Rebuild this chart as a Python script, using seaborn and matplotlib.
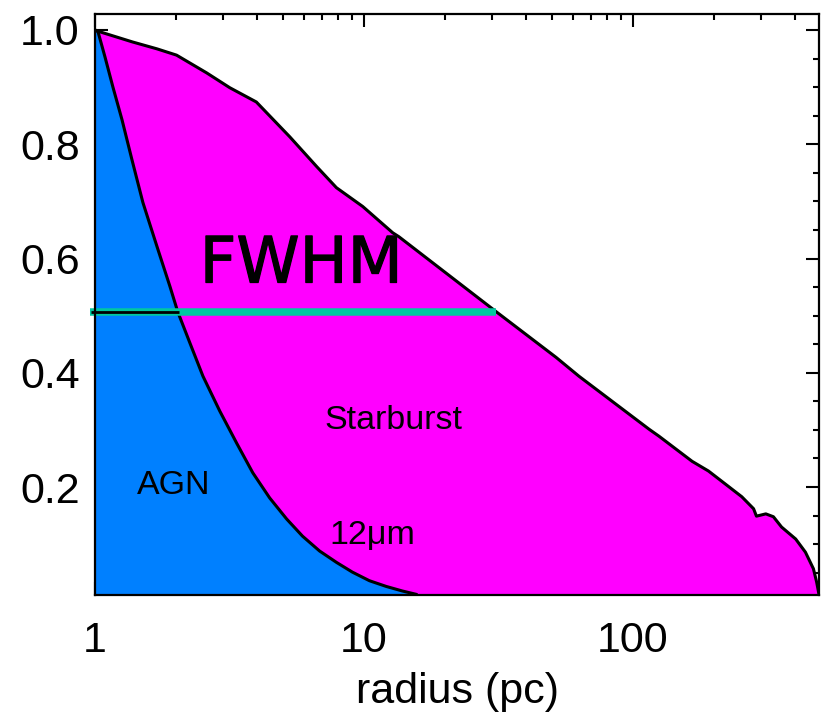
import matplotlib
matplotlib.use("Agg")
import matplotlib.pyplot as plt
import matplotlib.patheffects as pe
import seaborn as sns
import numpy as np
import pandas as pd
from matplotlib.ticker import MultipleLocator, FixedLocator, FixedFormatter, LogLocator, NullFormatter

# ---- data ----
sb_r = [1.0, 1.04, 1.38, 1.70, 2.01, 2.60, 3.17, 3.98, 5.3, 6.67, 7.9, 9.9, 12.8, 13.5,
        31.0, 51.8, 63.0, 115.0, 125.0, 166.0, 191.0, 221.0, 254.0, 281.0, 288.0,
        312.0, 333.0, 357.0, 403.0, 438.0, 469.0, 482.0, 492.0]
sb_y = [1.0, 0.997, 0.979, 0.967, 0.956, 0.925, 0.899, 0.874, 0.813, 0.761, 0.724, 0.691,
        0.645, 0.638, 0.507, 0.427, 0.394, 0.301, 0.289, 0.245, 0.228, 0.205, 0.183,
        0.162, 0.149, 0.153, 0.148, 0.130, 0.109, 0.086, 0.057, 0.034, 0.012]

agn_r = [1.0, 1.026, 1.089, 1.166, 1.26, 1.372, 1.507, 1.70, 1.90, 2.03, 2.25, 2.52,
         2.91, 3.37, 3.86, 4.46, 5.16, 5.91, 6.84, 7.91, 9.06, 10.48, 12.1, 13.9, 15.7]
agn_y = [1.0, 0.997, 0.953, 0.900, 0.843, 0.773, 0.698, 0.621, 0.551, 0.507, 0.453,
         0.394, 0.333, 0.276, 0.225, 0.181, 0.144, 0.114, 0.088, 0.068, 0.051, 0.036,
         0.026, 0.018, 0.012]

fwhm_level = 0.507
fwhm_sb_end = 31.0
fwhm_agn_end = 2.05

x_ticks = [1, 10, 100]
x_ticklabels = ["1", "10", "100"]
y_ticks = [0.2, 0.4, 0.6, 0.8, 1.0]
y_ticklabels = ["0.2", "0.4", "0.6", "0.8", "1.0"]

sb_df = pd.DataFrame({"radius": sb_r, "flux": sb_y})
agn_df = pd.DataFrame({"radius": agn_r, "flux": agn_y})

sns.set_style("ticks")
plt.rcParams["font.family"] = ["Liberation Sans", "DejaVu Sans"]
plt.rcParams["text.color"] = "black"
plt.rcParams["axes.labelcolor"] = "black"
plt.rcParams["xtick.color"] = "black"
plt.rcParams["ytick.color"] = "black"

fig = plt.figure(figsize=(8.22, 7.19), dpi=100)
ax = fig.add_axes([95 / 822, 1 - 595 / 719, (819 - 95) / 822, (595 - 14) / 719])

MAG = "#FF00FF"
BLUE = "#0080FF"
GREEN = "#00C8A0"

ax.set_xscale("log")
ax.fill_between(sb_df["radius"], 0, sb_df["flux"], color=MAG, lw=0, zorder=1)
ax.fill_between(agn_df["radius"], 0, agn_df["flux"], color=BLUE, lw=0, zorder=2)
sns.lineplot(data=sb_df, x="radius", y="flux", ax=ax, color="black", lw=2.2,
             sort=False, zorder=3)
sns.lineplot(data=agn_df, x="radius", y="flux", ax=ax, color="black", lw=2.2,
             sort=False, zorder=3)

# FWHM lines
ax.plot([0.958, fwhm_sb_end], [fwhm_level, fwhm_level], color=GREEN, lw=5.4,
        solid_capstyle="butt", zorder=4, clip_on=False)
ax.plot([0.97, fwhm_agn_end], [fwhm_level, fwhm_level], color="black", lw=2.0,
        solid_capstyle="butt", zorder=5, clip_on=False)

ax.set_xlim(1.0, 492)
ax.set_ylim(0.011, 1.028)

ax.xaxis.set_major_locator(FixedLocator(x_ticks))
ax.xaxis.set_major_formatter(FixedFormatter(x_ticklabels))
ax.xaxis.set_minor_locator(LogLocator(base=10, subs=np.arange(2, 10), numticks=20))
ax.xaxis.set_minor_formatter(NullFormatter())
ax.yaxis.set_major_locator(FixedLocator(y_ticks))
ax.yaxis.set_major_formatter(FixedFormatter(y_ticklabels))
ax.yaxis.set_minor_locator(MultipleLocator(0.05))

ax.tick_params(which="both", direction="in", top=True, right=True, width=1.5,
               color="black", labelcolor="black", zorder=6)
ax.tick_params(which="major", length=9.5, labelsize=31)
ax.tick_params(which="minor", length=4.5)
ax.tick_params(axis="x", which="major", pad=19)
ax.tick_params(axis="y", which="major", pad=11)
for s in ax.spines.values():
    s.set_linewidth(1.6)
    s.set_color("black")
    s.set_zorder(6)

ax.set_xlabel("radius (pc)", fontsize=31, labelpad=8, color="black")
ax.set_ylabel("")

ax.text(2.45, 0.558, "FWHM", fontsize=46, family=["DejaVu Sans"], color="black",
        zorder=7, path_effects=[pe.withStroke(linewidth=0.9, foreground="black")])
ax.text(7.14, 0.301, "Starburst", fontsize=24.5, color="black", zorder=7)
ax.text(1.43, 0.188, "AGN", fontsize=24.5, color="black", zorder=7)
ax.text(7.45, 0.100, "12\u03bcm", fontsize=24.5, color="black", zorder=7)

fig.savefig("out.png", dpi=100)
